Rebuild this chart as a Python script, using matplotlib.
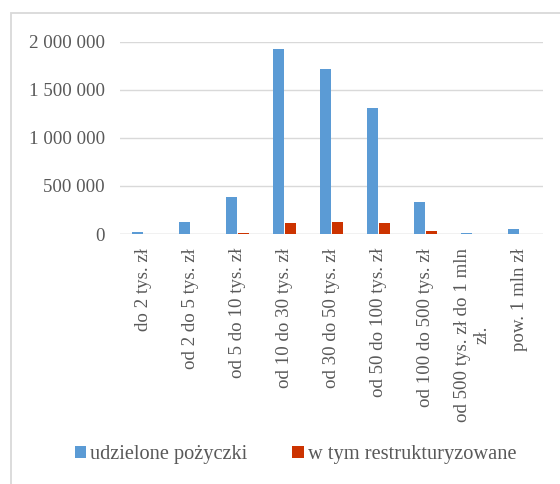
import matplotlib
matplotlib.use("Agg")
import matplotlib.pyplot as plt
from matplotlib.patches import Rectangle
from matplotlib.ticker import FuncFormatter
import numpy as np

# dane
kategorie = ["do 2 tys. zł", "od 2 do 5 tys. zł", "od 5 do 10 tys. zł",
             "od 10 do 30 tys. zł", "od 30 do 50 tys. zł", "od 50 do 100 tys. zł",
             "od 100 do 500 tys. zł", "od 500 tys. zł do 1 mln\nzł.", "pow. 1 mln zł"]
udzielone = [25000, 128000, 388000, 1925000, 1712000, 1313000, 336000, 15000, 50000]
restrukturyzowane = [1000, 2000, 15000, 118000, 128000, 118000, 32000, 1000, 3000]

plt.rcParams['font.family'] = ['Liberation Serif', 'DejaVu Serif']
szary = '#595959'

fig = plt.figure(figsize=(5.6, 4.84), dpi=100)
ax = fig.add_axes([120/560, 1-234/484, (543-120)/560, (234-41.5)/484])

x = np.arange(len(kategorie))
w = 0.234
ax.bar(x - 0.138, udzielone, w, color='#5B9BD5', label='udzielone pożyczki', zorder=3)
ax.bar(x + 0.138, restrukturyzowane, w, color='#CC3300', label='w tym restrukturyzowane', zorder=3)

ax.set_xlim(-0.5, len(kategorie) - 0.5)
ax.set_ylim(0, 2000000)
ax.set_yticks([0, 500000, 1000000, 1500000, 2000000])
ax.yaxis.set_major_formatter(FuncFormatter(lambda v, p: f"{int(v):,}".replace(",", " ")))
ax.grid(axis='y', color='#D9D9D9', linewidth=1.0, zorder=0)
for s in ax.spines.values():
    s.set_visible(False)
ax.axhline(0, color='#D9D9D9', linewidth=1.0, zorder=2)

ax.set_xticks(x)
ax.set_xticklabels(kategorie, rotation=90, multialignment='center')
ax.tick_params(axis='x', length=0, pad=10, labelsize=13.6, colors=szary)
ax.tick_params(axis='y', length=0, pad=11, labelsize=13.6, colors=szary)

fig.legend(loc='center', bbox_to_anchor=(295.5/560, 1-455/484), ncol=2, frameon=False,
           fontsize=14.7, labelcolor=szary, handlelength=0.55, handleheight=0.55,
           handletextpad=0.2, columnspacing=2.2)

# ramka wykresu
fig.patches.append(Rectangle((11/560, -0.5), 2, 0.5 + 1 - 12.5/484, transform=fig.transFigure,
                             fill=False, edgecolor='#D9D9D9', linewidth=1.3))

fig.savefig('out.png', dpi=100)
